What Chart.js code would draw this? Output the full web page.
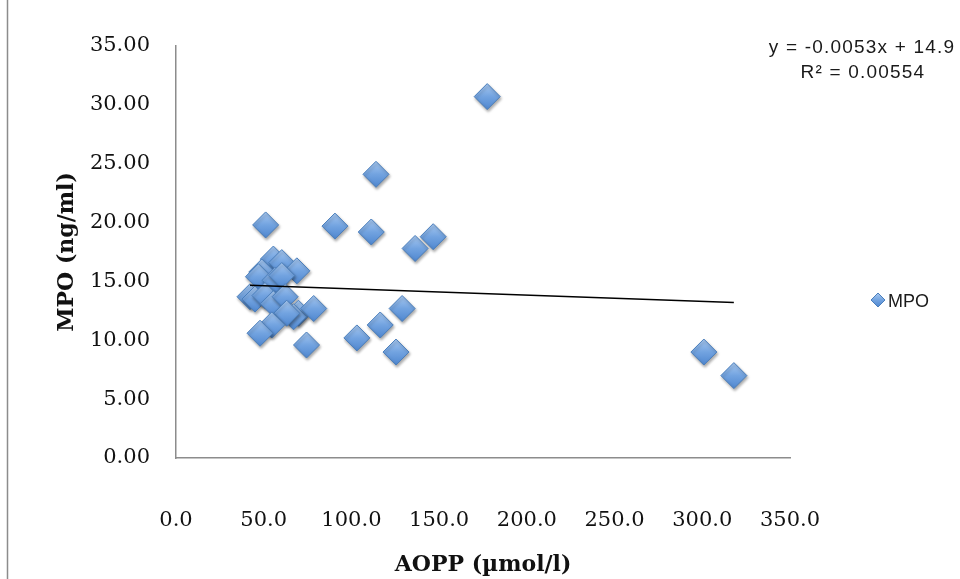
<!DOCTYPE html>
<html>
<head>
<meta charset="utf-8">
<script src="https://cdn.jsdelivr.net/npm/chart.js@4/dist/chart.umd.min.js"></script>
<style>
  html, body { margin: 0; padding: 0; background: #ffffff; }
  #wrap { width: 960px; height: 579px; }
</style>
</head>
<body>
<div id="wrap"><canvas id="c" width="960" height="579"></canvas></div>
<script>
// ---- data ----
const aoppValues = [177.4, 114.0, 51.1, 90.6, 111.3, 146.6, 136.3, 128.9, 116.4, 103.1, 74.4, 125.4, 300.9, 318.0,
                    55.5, 60.3, 68.9, 48.9, 47.0, 56.5, 60.3, 42.2, 45.0, 50.7, 55.5, 62.2, 69.8, 67.0, 78.5, 63.1, 54.6, 47.9];
const mpoValues  = [30.7, 24.1, 19.8, 19.7, 19.2, 18.8, 17.8, 12.7, 11.3, 10.2, 9.6, 9.0, 9.0, 7.0,
                    16.9, 16.6, 15.9, 15.8, 15.4, 15.1, 15.5, 13.7, 13.5, 13.8, 13.1, 13.7, 12.3, 12.0, 12.7, 12.3, 11.3, 10.6];
const seriesName = 'MPO';
const trendSlope = [-0.0053];
const trendIntercept = [14.9];
const trendText = ['y = -0.0053x + 14.9', 'R² = 0.00554'];
const xTickRange = [0, 350, 50];
const yTickRange = [0, 35, 5];
const xTitle = 'AOPP (µmol/l)';
const yTitle = 'MPO (ng/ml)';

const points = aoppValues.map((x, i) => ({ x: x, y: mpoValues[i] }));
const xMin = Math.min(...aoppValues), xMax = Math.max(...aoppValues);
const trendPoints = [xMin, xMax].map(x => ({ x: x, y: trendSlope[0] * x + trendIntercept[0] }));

const R = 13;
function diamondFill(c) {
  const fallback = '#6E9FDC';
  if (c.type !== 'data' || !c.chart.scales || !c.chart.scales.y) return fallback;
  const py = c.chart.scales.y.getPixelForValue(c.raw.y);
  if (!isFinite(py)) return fallback;
  const g = c.chart.ctx.createLinearGradient(0, py - R, 0, py + R);
  g.addColorStop(0, '#A8C9F1');
  g.addColorStop(0.5, '#72A3E0');
  g.addColorStop(1, '#4F87D0');
  return g;
}

const decoPlugin = {
  id: 'deco',
  beforeDatasetDraw(chart, args) {
    if (args.index === 0) {
      const ctx = chart.ctx;
      ctx.save();
      ctx.shadowColor = 'rgba(0,0,0,0.35)';
      ctx.shadowBlur = 3;
      ctx.shadowOffsetX = 1;
      ctx.shadowOffsetY = 2;
    }
  },
  afterDatasetDraw(chart, args) {
    if (args.index === 0) chart.ctx.restore();
  },
  afterDraw(chart) {
    const ctx = chart.ctx;
    ctx.save();
    // outer chart border (left edge)
    ctx.strokeStyle = '#8C8C8C';
    ctx.lineWidth = 1.5;
    ctx.beginPath();
    ctx.moveTo(7.5, 0);
    ctx.lineTo(7.5, 579);
    ctx.stroke();

    // trendline equation
    ctx.fillStyle = '#1A1A1A';
    ctx.font = '19px "Liberation Sans", Arial, sans-serif';
    try { ctx.letterSpacing = '1.2px'; } catch (e) {}
    ctx.textAlign = 'center';
    ctx.textBaseline = 'middle';
    ctx.fillText(trendText[0], 862, 48);
    ctx.fillText(trendText[1], 863, 73);

    // legend
    try { ctx.letterSpacing = '0px'; } catch (e) {}
    const lx = 878, ly = 300, lr = 7;
    const g = ctx.createLinearGradient(0, ly - lr, 0, ly + lr);
    g.addColorStop(0, '#A8C9F1');
    g.addColorStop(0.5, '#72A3E0');
    g.addColorStop(1, '#4F87D0');
    ctx.beginPath();
    ctx.moveTo(lx, ly - lr);
    ctx.lineTo(lx + lr, ly);
    ctx.lineTo(lx, ly + lr);
    ctx.lineTo(lx - lr, ly);
    ctx.closePath();
    ctx.fillStyle = g;
    ctx.fill();
    ctx.strokeStyle = '#4A7EBB';
    ctx.lineWidth = 1;
    ctx.stroke();
    ctx.fillStyle = '#1A1A1A';
    ctx.font = '18px "Liberation Sans", Arial, sans-serif';
    ctx.textAlign = 'left';
    ctx.fillText(seriesName, 888, 302);
    ctx.restore();
  }
};

new Chart(document.getElementById('c'), {
  type: 'scatter',
  data: {
    datasets: [
      {
        label: seriesName,
        data: points,
        pointStyle: 'rectRot',
        pointRadius: R,
        pointHoverRadius: R,
        backgroundColor: diamondFill,
        borderColor: '#4A7EBB',
        borderWidth: 1,
        order: 2
      },
      {
        label: 'trend',
        type: 'line',
        data: trendPoints,
        showLine: true,
        borderColor: '#000000',
        borderWidth: 1.6,
        pointRadius: 0,
        fill: false,
        order: 1
      }
    ]
  },
  options: {
    responsive: false,
    animation: false,
    events: [],
    layout: { padding: { left: 0, right: 170, top: 46, bottom: 0 } },
    plugins: { legend: { display: false }, tooltip: { enabled: false } },
    scales: {
      x: {
        type: 'linear',
        min: xTickRange[0], max: xTickRange[1],
        afterFit(s) { s.height = 121; },
        grid: { display: false, drawTicks: false },
        border: { display: true, color: '#8C8C8C', width: 1.5 },
        ticks: {
          stepSize: xTickRange[2],
          padding: 50,
          color: '#111111',
          font: { family: '"DejaVu Serif", serif', size: 21 },
          maxRotation: 0,
          callback: v => Number(v).toFixed(1)
        },
        title: {
          display: true, text: xTitle, color: '#111111',
          font: { family: '"DejaVu Serif", serif', size: 22, weight: 'bold' },
          padding: { top: 0, bottom: 1 }
        }
      },
      y: {
        type: 'linear',
        min: yTickRange[0], max: yTickRange[1],
        afterFit(s) { s.width = 176; },
        grid: { display: false, drawTicks: false },
        border: { display: true, color: '#8C8C8C', width: 1.5 },
        ticks: {
          stepSize: yTickRange[2],
          padding: 26,
          color: '#111111',
          font: { family: '"DejaVu Serif", serif', size: 21 },
          callback: v => Number(v).toFixed(2)
        },
        title: {
          display: true, text: yTitle, color: '#111111',
          font: { family: '"DejaVu Serif", serif', size: 22, weight: 'bold' },
          padding: { top: 54, bottom: 0 }
        }
      }
    }
  },
  plugins: [decoPlugin]
});
</script>
</body>
</html>
